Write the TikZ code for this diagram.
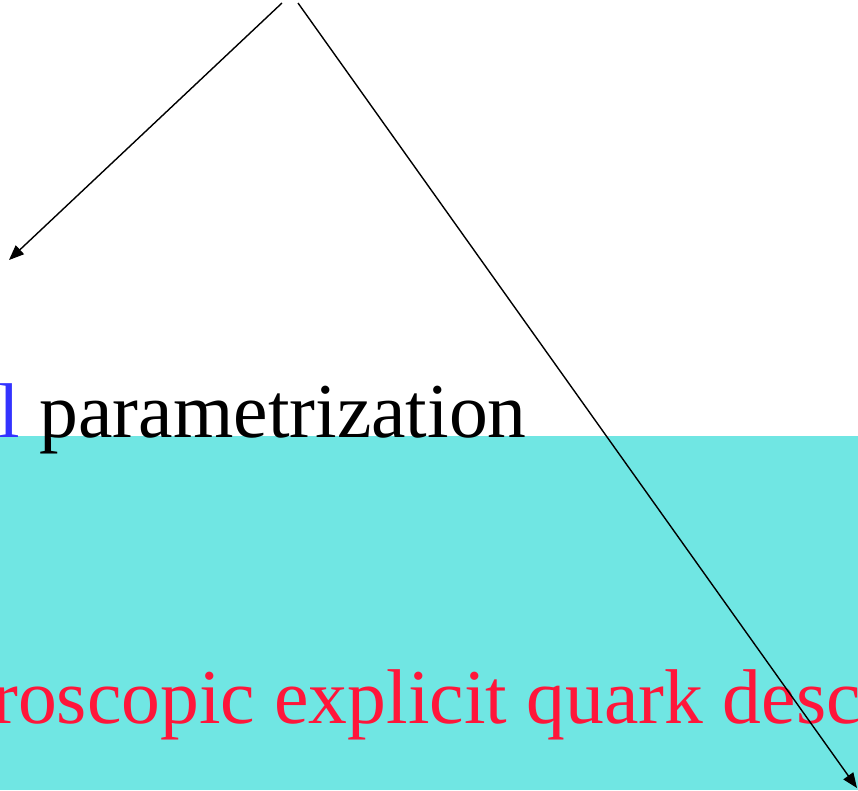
\documentclass[tikz,border=0pt]{standalone}
\usepackage{fontspec}
\setmainfont{Liberation Serif}
\usetikzlibrary{arrows.meta}
\definecolor{bgcyan}{RGB}{112,230,227}
\definecolor{txtblue}{RGB}{51,51,255}
\definecolor{txtred}{RGB}{255,22,58}
\tikzset{
  big/.style={font=\fontsize{77.6}{92}\selectfont, inner sep=0pt, anchor=base west},
  conn/.style={line width=1.4pt, -{Triangle[length=15pt,width=12pt]}}
}
\begin{document}
\begin{tikzpicture}[x=1pt,y=-1pt]
\useasboundingbox (0,0) rectangle (858,790);
\fill[bgcyan] (0,436) rectangle (858,790);
\node[big] (param) at (-1.5,437) {\textcolor{txtblue}{l} parametrization};
\node[big, text=txtred] (micro) at (-8,723) {roscopic explicit quark desc};
\coordinate (s1) at (282,3);
\coordinate (e1) at (9,260);
\coordinate (s2) at (298,3);
\coordinate (e2) at (857,788);
\draw[conn] (s1) -- (e1);
\draw[conn] (s2) -- (e2);
\end{tikzpicture}
\end{document}
